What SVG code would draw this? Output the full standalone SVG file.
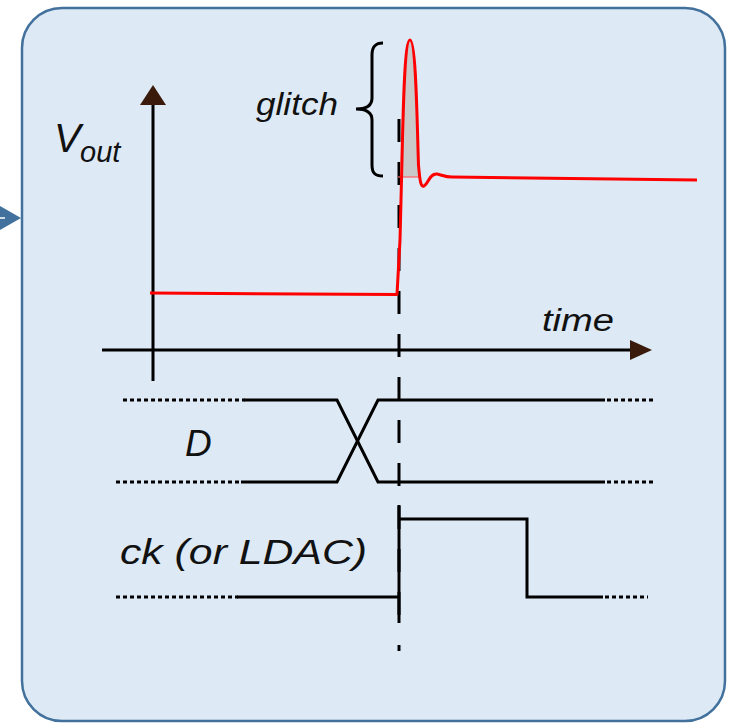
<svg xmlns="http://www.w3.org/2000/svg" width="729" height="723" viewBox="0 0 729 723">
<defs>
<style>
.ln{stroke:#000;stroke-width:3;fill:none}
.dot{stroke:#000;stroke-width:3;fill:none;stroke-dasharray:4 3}
.red{stroke:#ff0000;stroke-width:3;fill:none;stroke-linejoin:round}
.lbl{font-family:"Liberation Sans",Arial,sans-serif;font-style:italic;fill:#111}
.head{fill:#3a1a0a}
</style>
</defs>
<rect id="panel" x="22" y="8" width="703" height="713" rx="40" ry="40" fill="#dde9f5" stroke="#41719c" stroke-width="2.5"/>
<g id="connectors">
<polygon points="0,206 21,218 0,230" fill="#41719c"/>
<line x1="0" y1="218" x2="5" y2="218" stroke="#ffffff" stroke-width="1.5"/>
</g>
<g id="axes">
<line class="ln" x1="153" y1="100" x2="153" y2="381"/>
<polygon class="head" points="153,85 140,105 166,105"/>
<line class="ln" x1="102" y1="350" x2="634" y2="350"/>
<polygon class="head" points="652,350 630,340 630,360"/>
</g>
<g id="vout-label">
<text class="lbl" x="54" y="152" font-size="40">V</text>
<text class="lbl" x="80" y="162" font-size="29">out</text>
</g>
<g id="time-label">
<text class="lbl" x="542" y="331" font-size="31" textLength="72" lengthAdjust="spacingAndGlyphs">time</text>
</g>
<g id="glitch">
<text class="lbl" x="256" y="115" font-size="31" textLength="82" lengthAdjust="spacingAndGlyphs">glitch</text>
<path d="M383,43 C375,43 372,47 372,55 L372,98 C372,105 367,109 356,109 C367,109 372,113 372,120 L372,165 C372,173 375,176 383,176" stroke="#000" stroke-width="3" fill="none"/>
</g>
<g id="dashed-marker">
<line x1="399" y1="119" x2="399" y2="625" stroke="#000" stroke-width="3" stroke-dasharray="23 20"/>
<line x1="399" y1="645" x2="399" y2="651" stroke="#000" stroke-width="3"/>
</g>
<g id="vout-wave">
<path d="M400,177 C402,120 404,42 410,42 C416,42 417,120 419,177 Z" fill="#c9c9c9"/>
<line x1="398" y1="177" x2="421" y2="177" stroke="#ff6060" stroke-width="1.2"/>
<path class="red" d="M150,293 L397,294.5 L400,240 L401.5,180 C403,120 404,40 410,40 C416,40 417,120 418.5,165 C420,183 421,187 424,186 C428,184 430,173 437,174 C442,175 445,177 452,177 L697,180"/>
</g>
<g id="d-signal">
<text class="lbl" x="185" y="456" font-size="37">D</text>
<line class="dot" x1="123" y1="400" x2="245" y2="400"/>
<line class="dot" x1="116" y1="482" x2="242" y2="482"/>
<path class="ln" d="M244,400 L337,400 L378,482 L605,482"/>
<path class="ln" d="M241,482 L337,482 L378,400 L605,400"/>
<line class="dot" x1="607" y1="400" x2="655" y2="400"/>
<line class="dot" x1="607" y1="482" x2="655" y2="482"/>
</g>
<g id="ck-signal">
<text class="lbl" x="120" y="564" font-size="35" textLength="247" lengthAdjust="spacingAndGlyphs">ck (or LDAC)</text>
<line class="dot" x1="116" y1="597" x2="238" y2="597"/>
<path class="ln" d="M237,597 L399,597"/>
<line class="ln" x1="399" y1="505" x2="399" y2="623"/>
<path class="ln" d="M399,519 L527,519 L527,597 L603,597"/>
<line class="dot" x1="605" y1="597" x2="648" y2="597"/>
</g>
</svg>
